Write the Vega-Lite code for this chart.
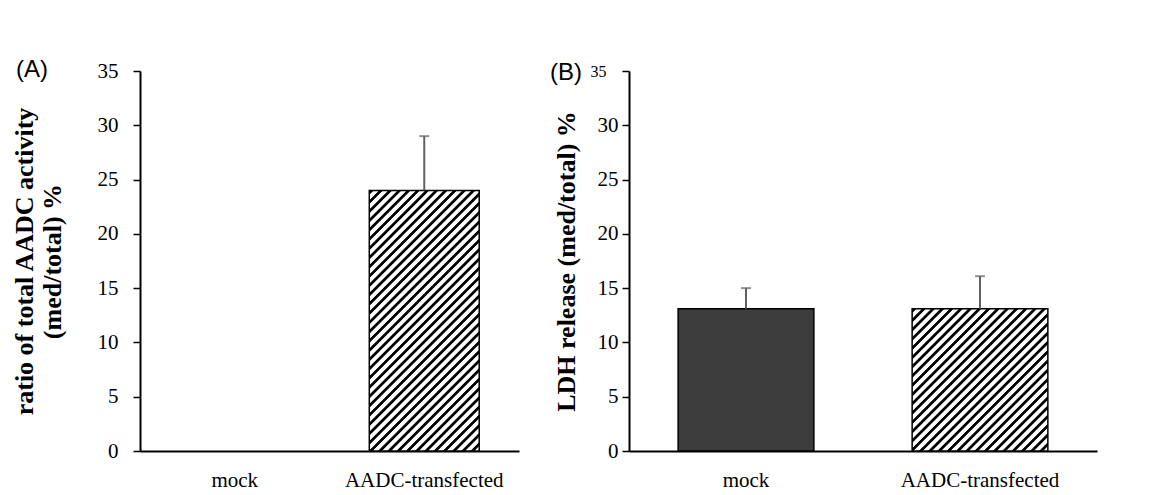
{
  "$schema": "https://vega.github.io/schema/vega-lite/v6.json",
  "padding": {"left": 11, "top": 58, "right": 5, "bottom": 0},
  "background": "white",
  "spacing": 31,
  "datasets": {
    "A": [
      {"group": "mock", "value": 0, "upper": null},
      {"group": "AADC-transfected", "value": 24, "upper": 29}
    ],
    "B": [
      {"group": "mock", "value": 13.1, "upper": 15},
      {"group": "AADC-transfected", "value": 13.1, "upper": 16.1}
    ]
  },
  "config": {
    "view": {"stroke": null},
    "axis": {
      "grid": false,
      "domainColor": "#000000",
      "domainWidth": 2,
      "tickColor": "#000000",
      "tickWidth": 1.5,
      "labelFont": "Liberation Serif",
      "labelFontSize": 21,
      "labelColor": "#000000",
      "titleFont": "Liberation Serif",
      "titleFontSize": 26,
      "titleFontWeight": "bold",
      "titleColor": "#000000"
    },
    "axisX": {"ticks": false, "tickSize": 0, "labelAngle": 0, "labelPadding": 18, "title": null},
    "axisY": {"tickSize": 7, "values": [0, 5, 10, 15, 20, 25, 30, 35]},
    "title": {"font": "Liberation Sans", "fontSize": 24, "fontWeight": "normal", "color": "#000000"}
  },
  "hconcat": [
    {
      "width": 379,
      "height": 380,
      "title": {"text": "(A)", "orient": "top", "anchor": "start", "frame": "bounds", "offset": -22, "dx": 5},
      "data": {"name": "A"},
      "encoding": {
        "x": {
          "field": "group", "type": "nominal", "sort": ["mock", "AADC-transfected"],
          "scale": {"domain": ["mock", "AADC-transfected"], "paddingInner": 0.42, "paddingOuter": 0.21}
        }
      },
      "layer": [
        {
          "transform": [{"filter": "datum.group === 'AADC-transfected'"}],
          "mark": {
            "type": "bar", "stroke": "#000000", "strokeWidth": 1.5,
            "fill": {"gradient": "linear", "x1": 0, "y1": 0, "x2": 0.5094, "y2": 1.2067, "stops": [
              {"offset":0,"color":"#fff"},{"offset":0.003,"color":"#000"},{"offset":0.0105,"color":"#000"},{"offset":0.0135,"color":"#fff"},
              {"offset":0.025,"color":"#fff"},{"offset":0.028,"color":"#000"},{"offset":0.0355,"color":"#000"},{"offset":0.0385,"color":"#fff"},
              {"offset":0.05,"color":"#fff"},{"offset":0.053,"color":"#000"},{"offset":0.0605,"color":"#000"},{"offset":0.0635,"color":"#fff"},
              {"offset":0.075,"color":"#fff"},{"offset":0.078,"color":"#000"},{"offset":0.0855,"color":"#000"},{"offset":0.0885,"color":"#fff"},
              {"offset":0.1,"color":"#fff"},{"offset":0.103,"color":"#000"},{"offset":0.1105,"color":"#000"},{"offset":0.1135,"color":"#fff"},
              {"offset":0.125,"color":"#fff"},{"offset":0.128,"color":"#000"},{"offset":0.1355,"color":"#000"},{"offset":0.1385,"color":"#fff"},
              {"offset":0.15,"color":"#fff"},{"offset":0.153,"color":"#000"},{"offset":0.1605,"color":"#000"},{"offset":0.1635,"color":"#fff"},
              {"offset":0.175,"color":"#fff"},{"offset":0.178,"color":"#000"},{"offset":0.1855,"color":"#000"},{"offset":0.1885,"color":"#fff"},
              {"offset":0.2,"color":"#fff"},{"offset":0.203,"color":"#000"},{"offset":0.2105,"color":"#000"},{"offset":0.2135,"color":"#fff"},
              {"offset":0.225,"color":"#fff"},{"offset":0.228,"color":"#000"},{"offset":0.2355,"color":"#000"},{"offset":0.2385,"color":"#fff"},
              {"offset":0.25,"color":"#fff"},{"offset":0.253,"color":"#000"},{"offset":0.2605,"color":"#000"},{"offset":0.2635,"color":"#fff"},
              {"offset":0.275,"color":"#fff"},{"offset":0.278,"color":"#000"},{"offset":0.2855,"color":"#000"},{"offset":0.2885,"color":"#fff"},
              {"offset":0.3,"color":"#fff"},{"offset":0.303,"color":"#000"},{"offset":0.3105,"color":"#000"},{"offset":0.3135,"color":"#fff"},
              {"offset":0.325,"color":"#fff"},{"offset":0.328,"color":"#000"},{"offset":0.3355,"color":"#000"},{"offset":0.3385,"color":"#fff"},
              {"offset":0.35,"color":"#fff"},{"offset":0.353,"color":"#000"},{"offset":0.3605,"color":"#000"},{"offset":0.3635,"color":"#fff"},
              {"offset":0.375,"color":"#fff"},{"offset":0.378,"color":"#000"},{"offset":0.3855,"color":"#000"},{"offset":0.3885,"color":"#fff"},
              {"offset":0.4,"color":"#fff"},{"offset":0.403,"color":"#000"},{"offset":0.4105,"color":"#000"},{"offset":0.4135,"color":"#fff"},
              {"offset":0.425,"color":"#fff"},{"offset":0.428,"color":"#000"},{"offset":0.4355,"color":"#000"},{"offset":0.4385,"color":"#fff"},
              {"offset":0.45,"color":"#fff"},{"offset":0.453,"color":"#000"},{"offset":0.4605,"color":"#000"},{"offset":0.4635,"color":"#fff"},
              {"offset":0.475,"color":"#fff"},{"offset":0.478,"color":"#000"},{"offset":0.4855,"color":"#000"},{"offset":0.4885,"color":"#fff"},
              {"offset":0.5,"color":"#fff"},{"offset":0.503,"color":"#000"},{"offset":0.5105,"color":"#000"},{"offset":0.5135,"color":"#fff"},
              {"offset":0.525,"color":"#fff"},{"offset":0.528,"color":"#000"},{"offset":0.5355,"color":"#000"},{"offset":0.5385,"color":"#fff"},
              {"offset":0.55,"color":"#fff"},{"offset":0.553,"color":"#000"},{"offset":0.5605,"color":"#000"},{"offset":0.5635,"color":"#fff"},
              {"offset":0.575,"color":"#fff"},{"offset":0.578,"color":"#000"},{"offset":0.5855,"color":"#000"},{"offset":0.5885,"color":"#fff"},
              {"offset":0.6,"color":"#fff"},{"offset":0.603,"color":"#000"},{"offset":0.6105,"color":"#000"},{"offset":0.6135,"color":"#fff"},
              {"offset":0.625,"color":"#fff"},{"offset":0.628,"color":"#000"},{"offset":0.6355,"color":"#000"},{"offset":0.6385,"color":"#fff"},
              {"offset":0.65,"color":"#fff"},{"offset":0.653,"color":"#000"},{"offset":0.6605,"color":"#000"},{"offset":0.6635,"color":"#fff"},
              {"offset":0.675,"color":"#fff"},{"offset":0.678,"color":"#000"},{"offset":0.6855,"color":"#000"},{"offset":0.6885,"color":"#fff"},
              {"offset":0.7,"color":"#fff"},{"offset":0.703,"color":"#000"},{"offset":0.7105,"color":"#000"},{"offset":0.7135,"color":"#fff"},
              {"offset":0.725,"color":"#fff"},{"offset":0.728,"color":"#000"},{"offset":0.7355,"color":"#000"},{"offset":0.7385,"color":"#fff"},
              {"offset":0.75,"color":"#fff"},{"offset":0.753,"color":"#000"},{"offset":0.7605,"color":"#000"},{"offset":0.7635,"color":"#fff"},
              {"offset":0.775,"color":"#fff"},{"offset":0.778,"color":"#000"},{"offset":0.7855,"color":"#000"},{"offset":0.7885,"color":"#fff"},
              {"offset":0.8,"color":"#fff"},{"offset":0.803,"color":"#000"},{"offset":0.8105,"color":"#000"},{"offset":0.8135,"color":"#fff"},
              {"offset":0.825,"color":"#fff"},{"offset":0.828,"color":"#000"},{"offset":0.8355,"color":"#000"},{"offset":0.8385,"color":"#fff"},
              {"offset":0.85,"color":"#fff"},{"offset":0.853,"color":"#000"},{"offset":0.8605,"color":"#000"},{"offset":0.8635,"color":"#fff"},
              {"offset":0.875,"color":"#fff"},{"offset":0.878,"color":"#000"},{"offset":0.8855,"color":"#000"},{"offset":0.8885,"color":"#fff"},
              {"offset":0.9,"color":"#fff"},{"offset":0.903,"color":"#000"},{"offset":0.9105,"color":"#000"},{"offset":0.9135,"color":"#fff"},
              {"offset":0.925,"color":"#fff"},{"offset":0.928,"color":"#000"},{"offset":0.9355,"color":"#000"},{"offset":0.9385,"color":"#fff"},
              {"offset":0.95,"color":"#fff"},{"offset":0.953,"color":"#000"},{"offset":0.9605,"color":"#000"},{"offset":0.9635,"color":"#fff"},
              {"offset":0.975,"color":"#fff"},{"offset":0.978,"color":"#000"},{"offset":0.9855,"color":"#000"},{"offset":0.9885,"color":"#fff"}
            ]}
          },
          "encoding": {
            "y": {
              "field": "value", "type": "quantitative",
              "scale": {"domain": [0, 35], "nice": false},
              "title": ["ratio of total AADC activity", "(med/total) %"],
              "axis": {
                "labelPadding": 15, "titlePadding": 31, "minExtent": 44, "maxExtent": 44
              }
            }
          }
        },
        {
          "transform": [{"filter": "datum.upper != null"}],
          "mark": {"type": "rule", "color": "#606060", "strokeWidth": 2},
          "encoding": {
            "y": {"field": "value", "type": "quantitative", "title": ["ratio of total AADC activity", "(med/total) %"]},
            "y2": {"field": "upper"}
          }
        },
        {
          "transform": [{"filter": "datum.upper != null"}],
          "mark": {"type": "tick", "color": "#606060", "thickness": 2, "size": 10},
          "encoding": {
            "y": {"field": "upper", "type": "quantitative", "title": ["ratio of total AADC activity", "(med/total) %"]}
          }
        }
      ]
    },
    {
      "width": 468,
      "height": 380,
      "title": {"text": "(B)", "orient": "top", "anchor": "start", "frame": "bounds", "offset": -22, "dx": -3},
      "data": {"name": "B"},
      "encoding": {
        "x": {
          "field": "group", "type": "nominal", "sort": ["mock", "AADC-transfected"],
          "scale": {"domain": ["mock", "AADC-transfected"], "paddingInner": 0.42, "paddingOuter": 0.21}
        }
      },
      "layer": [
        {
          "transform": [{"filter": "datum.group === 'mock'"}],
          "mark": {"type": "bar", "stroke": "#000000", "strokeWidth": 1.5, "fill": "#3c3c3c"},
          "encoding": {
            "y": {
              "field": "value", "type": "quantitative",
              "scale": {"domain": [0, 35], "nice": false},
              "title": "LDH release (med/total) %",
              "axis": {
                "labelPadding": {"condition": {"test": "datum.value === 35", "value": 16}, "value": 4},
                "labelFontSize": {"condition": {"test": "datum.value === 35", "value": 16}, "value": 21},
                "titlePadding": 12, "minExtent": 38, "maxExtent": 38
              }
            }
          }
        },
        {
          "transform": [{"filter": "datum.group === 'AADC-transfected'"}],
          "mark": {
            "type": "bar", "stroke": "#000000", "strokeWidth": 1.5,
            "fill": {"gradient": "linear", "x1": 0, "y1": 0, "x2": 1.3014, "y2": 1.3637, "stops": [
              {"offset":0,"color":"#fff"},{"offset":0.003,"color":"#000"},{"offset":0.0105,"color":"#000"},{"offset":0.0135,"color":"#fff"},
              {"offset":0.025,"color":"#fff"},{"offset":0.028,"color":"#000"},{"offset":0.0355,"color":"#000"},{"offset":0.0385,"color":"#fff"},
              {"offset":0.05,"color":"#fff"},{"offset":0.053,"color":"#000"},{"offset":0.0605,"color":"#000"},{"offset":0.0635,"color":"#fff"},
              {"offset":0.075,"color":"#fff"},{"offset":0.078,"color":"#000"},{"offset":0.0855,"color":"#000"},{"offset":0.0885,"color":"#fff"},
              {"offset":0.1,"color":"#fff"},{"offset":0.103,"color":"#000"},{"offset":0.1105,"color":"#000"},{"offset":0.1135,"color":"#fff"},
              {"offset":0.125,"color":"#fff"},{"offset":0.128,"color":"#000"},{"offset":0.1355,"color":"#000"},{"offset":0.1385,"color":"#fff"},
              {"offset":0.15,"color":"#fff"},{"offset":0.153,"color":"#000"},{"offset":0.1605,"color":"#000"},{"offset":0.1635,"color":"#fff"},
              {"offset":0.175,"color":"#fff"},{"offset":0.178,"color":"#000"},{"offset":0.1855,"color":"#000"},{"offset":0.1885,"color":"#fff"},
              {"offset":0.2,"color":"#fff"},{"offset":0.203,"color":"#000"},{"offset":0.2105,"color":"#000"},{"offset":0.2135,"color":"#fff"},
              {"offset":0.225,"color":"#fff"},{"offset":0.228,"color":"#000"},{"offset":0.2355,"color":"#000"},{"offset":0.2385,"color":"#fff"},
              {"offset":0.25,"color":"#fff"},{"offset":0.253,"color":"#000"},{"offset":0.2605,"color":"#000"},{"offset":0.2635,"color":"#fff"},
              {"offset":0.275,"color":"#fff"},{"offset":0.278,"color":"#000"},{"offset":0.2855,"color":"#000"},{"offset":0.2885,"color":"#fff"},
              {"offset":0.3,"color":"#fff"},{"offset":0.303,"color":"#000"},{"offset":0.3105,"color":"#000"},{"offset":0.3135,"color":"#fff"},
              {"offset":0.325,"color":"#fff"},{"offset":0.328,"color":"#000"},{"offset":0.3355,"color":"#000"},{"offset":0.3385,"color":"#fff"},
              {"offset":0.35,"color":"#fff"},{"offset":0.353,"color":"#000"},{"offset":0.3605,"color":"#000"},{"offset":0.3635,"color":"#fff"},
              {"offset":0.375,"color":"#fff"},{"offset":0.378,"color":"#000"},{"offset":0.3855,"color":"#000"},{"offset":0.3885,"color":"#fff"},
              {"offset":0.4,"color":"#fff"},{"offset":0.403,"color":"#000"},{"offset":0.4105,"color":"#000"},{"offset":0.4135,"color":"#fff"},
              {"offset":0.425,"color":"#fff"},{"offset":0.428,"color":"#000"},{"offset":0.4355,"color":"#000"},{"offset":0.4385,"color":"#fff"},
              {"offset":0.45,"color":"#fff"},{"offset":0.453,"color":"#000"},{"offset":0.4605,"color":"#000"},{"offset":0.4635,"color":"#fff"},
              {"offset":0.475,"color":"#fff"},{"offset":0.478,"color":"#000"},{"offset":0.4855,"color":"#000"},{"offset":0.4885,"color":"#fff"},
              {"offset":0.5,"color":"#fff"},{"offset":0.503,"color":"#000"},{"offset":0.5105,"color":"#000"},{"offset":0.5135,"color":"#fff"},
              {"offset":0.525,"color":"#fff"},{"offset":0.528,"color":"#000"},{"offset":0.5355,"color":"#000"},{"offset":0.5385,"color":"#fff"},
              {"offset":0.55,"color":"#fff"},{"offset":0.553,"color":"#000"},{"offset":0.5605,"color":"#000"},{"offset":0.5635,"color":"#fff"},
              {"offset":0.575,"color":"#fff"},{"offset":0.578,"color":"#000"},{"offset":0.5855,"color":"#000"},{"offset":0.5885,"color":"#fff"},
              {"offset":0.6,"color":"#fff"},{"offset":0.603,"color":"#000"},{"offset":0.6105,"color":"#000"},{"offset":0.6135,"color":"#fff"},
              {"offset":0.625,"color":"#fff"},{"offset":0.628,"color":"#000"},{"offset":0.6355,"color":"#000"},{"offset":0.6385,"color":"#fff"},
              {"offset":0.65,"color":"#fff"},{"offset":0.653,"color":"#000"},{"offset":0.6605,"color":"#000"},{"offset":0.6635,"color":"#fff"},
              {"offset":0.675,"color":"#fff"},{"offset":0.678,"color":"#000"},{"offset":0.6855,"color":"#000"},{"offset":0.6885,"color":"#fff"},
              {"offset":0.7,"color":"#fff"},{"offset":0.703,"color":"#000"},{"offset":0.7105,"color":"#000"},{"offset":0.7135,"color":"#fff"},
              {"offset":0.725,"color":"#fff"},{"offset":0.728,"color":"#000"},{"offset":0.7355,"color":"#000"},{"offset":0.7385,"color":"#fff"},
              {"offset":0.75,"color":"#fff"},{"offset":0.753,"color":"#000"},{"offset":0.7605,"color":"#000"},{"offset":0.7635,"color":"#fff"},
              {"offset":0.775,"color":"#fff"},{"offset":0.778,"color":"#000"},{"offset":0.7855,"color":"#000"},{"offset":0.7885,"color":"#fff"}
            ]}
          },
          "encoding": {
            "y": {"field": "value", "type": "quantitative", "title": "LDH release (med/total) %"}
          }
        },
        {
          "mark": {"type": "rule", "color": "#606060", "strokeWidth": 2},
          "encoding": {
            "y": {"field": "value", "type": "quantitative", "title": "LDH release (med/total) %"},
            "y2": {"field": "upper"}
          }
        },
        {
          "mark": {"type": "tick", "color": "#606060", "thickness": 2, "size": 10},
          "encoding": {
            "y": {"field": "upper", "type": "quantitative", "title": "LDH release (med/total) %"}
          }
        }
      ]
    }
  ]
}
